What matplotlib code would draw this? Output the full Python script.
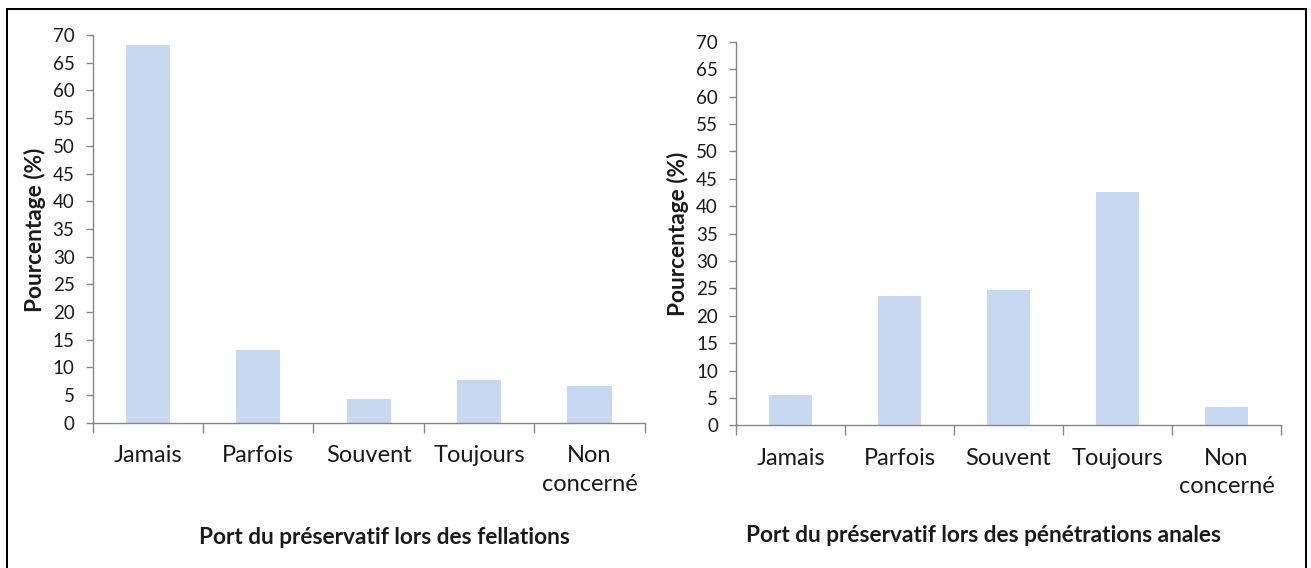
import matplotlib
matplotlib.use("Agg")
import matplotlib.pyplot as plt
from matplotlib.lines import Line2D

categories = ["Jamais", "Parfois", "Souvent", "Toujours", "Non\nconcerné"]
fellations = [68.2, 13.1, 4.3, 7.7, 6.6]
anales = [5.6, 23.6, 24.7, 42.6, 3.4]
yticks = list(range(0, 75, 5))
xlabel_left = "Port du préservatif lors des fellations"
xlabel_right = "Port du préservatif lors des pénétrations anales"
ylabel = "Pourcentage (%)"

plt.rcParams['font.family'] = ['Lato', 'DejaVu Sans']

W, H = 1311, 568
fig = plt.figure(figsize=(W / 100, H / 100), dpi=100)
fig.patch.set_facecolor('white')

bar_color = '#C6D9F1'
axis_color = '#868686'
text_color = '#1a1a1a'


def px_rect(x0, x1, ytop, ybot):
    return [x0 / W, 1 - ybot / H, (x1 - x0) / W, (ybot - ytop) / H]


def make_panel(rect, values, xlabel, xlabel_xy, ylabel_xy):
    ax = fig.add_axes(rect)
    ax.bar(range(len(values)), values, width=0.4, color=bar_color, zorder=2)
    ax.set_xlim(-0.5, len(values) - 0.5)
    ax.set_ylim(0, 70)
    ax.set_yticks(yticks)
    ax.tick_params(axis='y', length=5, width=1, color=axis_color, pad=8,
                   labelsize=13.5, labelcolor=text_color)
    ax.set_xticks(range(len(values)))
    ax.set_xticklabels(categories, fontsize=17, color=text_color, linespacing=1.45)
    ax.tick_params(axis='x', which='major', length=0, pad=16)
    ax.set_xticks([i - 0.5 for i in range(len(values) + 1)], minor=True)
    ax.tick_params(axis='x', which='minor', length=7, width=1, color=axis_color)
    for s in ['top', 'right']:
        ax.spines[s].set_visible(False)
    for s in ['left', 'bottom']:
        ax.spines[s].set_color(axis_color)
        ax.spines[s].set_linewidth(1)
    fig.text(xlabel_xy[0] / W, 1 - xlabel_xy[1] / H, xlabel, ha='center', va='center',
             fontsize=16.3, fontweight='bold', color=text_color)
    fig.text(ylabel_xy[0] / W, 1 - ylabel_xy[1] / H, ylabel, ha='center', va='center',
             rotation=90, fontsize=16.3, fontweight='bold', color=text_color)
    return ax


make_panel(px_rect(92.6, 644.8, 35.1, 422.8), fellations, xlabel_left, (384, 538), (35, 230))
make_panel(px_rect(736, 1281, 41.7, 425.4), anales, xlabel_right, (983, 536), (678, 234))

# outer frame (left, top, right)
lw = 2
fig.add_artist(Line2D([7 / W, 7 / W], [0, 1 - 9 / H], color='black', lw=lw * 0.72, transform=fig.transFigure))
fig.add_artist(Line2D([7 / W, 1305.5 / W], [1 - 9 / H, 1 - 9 / H], color='black', lw=lw * 0.72, transform=fig.transFigure))
fig.add_artist(Line2D([1305.5 / W, 1305.5 / W], [0, 1 - 9 / H], color='black', lw=lw * 0.72, transform=fig.transFigure))

fig.savefig("out.png", dpi=100, facecolor='white')
